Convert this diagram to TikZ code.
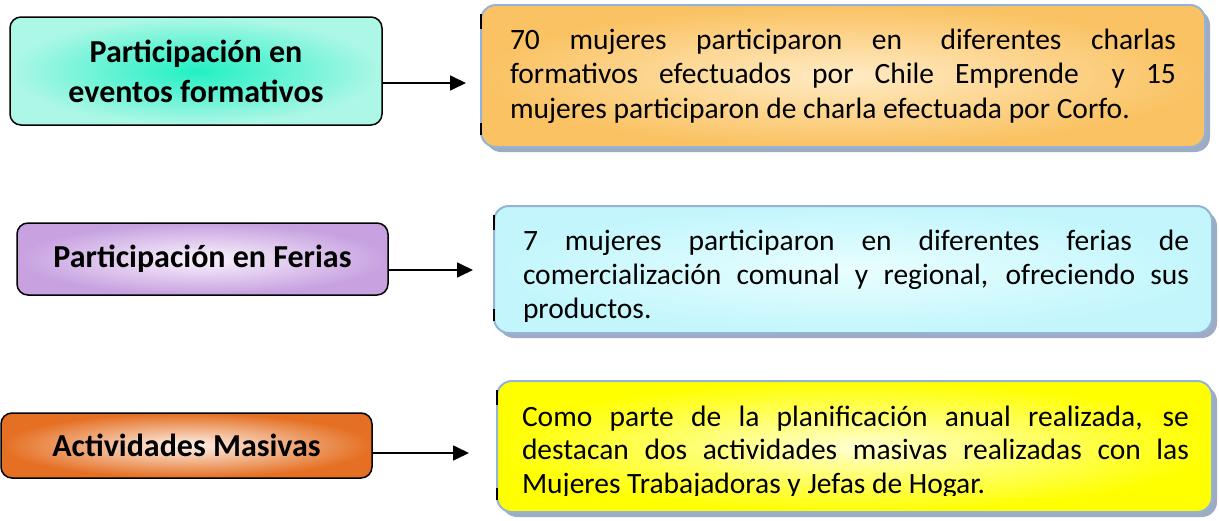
\documentclass[tikz,border=0pt]{standalone}
\usepackage{fontspec}
\setmainfont{Carlito}
\usetikzlibrary{arrows.meta,shadows}
\definecolor{aquaout}{HTML}{ADF7E6}
\definecolor{aquain}{HTML}{22F0C4}
\definecolor{purpout}{HTML}{C7A1E0}
\definecolor{purpin}{HTML}{FAF4FD}
\definecolor{orgout}{HTML}{E56F22}
\definecolor{orgin}{HTML}{FDF3EC}
\definecolor{ambout}{HTML}{FAC262}
\definecolor{ambin}{HTML}{FFEBC4}
\definecolor{cyout}{HTML}{C2F6FC}
\definecolor{cyin}{HTML}{E9FEFF}
\definecolor{yelout}{HTML}{FFFF00}
\definecolor{yelin}{HTML}{FFFFD0}
\definecolor{rborder}{HTML}{95B3D7}
\definecolor{shadowc}{HTML}{8496B4}
\tikzset{
  lbox/.style={draw=black, line width=1.5pt, rounded corners=11pt, inner sep=0pt, outer sep=0pt,
    font=\fontsize{32}{40}\selectfont\bfseries, align=center},
  rbox/.style={draw=rborder, line width=2pt, rounded corners=15pt, inner sep=0pt, outer sep=0pt,
    drop shadow={shadow xshift=5pt, shadow yshift=-5pt, fill=shadowc, opacity=0.8}},
  rtext/.style={anchor=base west, inner sep=0pt, outer sep=0pt, font=\fontsize{29.5}{34}\selectfont},
  arr/.style={-{Triangle[length=16pt,width=15pt]}, line width=1.7pt},
  tick/.style={draw=black, line width=1.6pt}
}
\begin{document}
\begin{tikzpicture}[x=1pt,y=-1pt]
\useasboundingbox (0,0) rectangle (1219,520);
% left boxes
\node[lbox, inner color=aquain, outer color=aquaout, minimum width=372pt, minimum height=108pt] (b1L) at (196,71) {Participación en\\eventos formativos};
\node[lbox, inner color=purpin, outer color=purpout, minimum width=371pt, minimum height=72pt] (b2L) at (202.5,259) {Participación en Ferias};
\node[lbox, inner color=orgin, outer color=orgout, minimum width=371pt, minimum height=65pt] (b3L) at (186.5,445.5) {Actividades Masivas};
% right boxes
\node[rbox, inner color=ambin, outer color=ambout, minimum width=724pt, minimum height=142pt] (b1R) at (843,76) {};
\node[rbox, inner color=cyin, outer color=cyout, minimum width=718pt, minimum height=127pt] (b2R) at (853,269.5) {};
\node[rbox, inner color=yelin, outer color=yelout, minimum width=715pt, minimum height=131pt] (b3R) at (854.5,446.5) {};
% small black marks on the left edges of the right boxes
\foreach \b in {b1R,b2R,b3R}{
  \draw[tick] ([yshift=-9pt]\b.north west) -- ([yshift=-24pt]\b.north west);
  \draw[tick] ([yshift=24pt]\b.south west) -- ([yshift=12pt]\b.south west);
}
% texts
\node[rtext] (t1a) at (510,49) {\makebox[666pt][s]{70 mujeres participaron en\hspace{0.3em} diferentes charlas}};
\node[rtext] (t1b) at (510,83.5) {\makebox[666pt][s]{formativos efectuados por Chile Emprende\hspace{0.4em} y 15}};
\node[rtext] (t1c) at (510,118) {mujeres participaron de charla efectuada por Corfo.};
\begin{scope}
\clip (b2R.north west) rectangle (1219,321.5);
\node[rtext] (t2a) at (523,250) {\makebox[666pt][s]{7 mujeres participaron en diferentes ferias de}};
\node[rtext] (t2b) at (523,284) {\makebox[666pt][s]{comercialización comunal y regional, ofreciendo sus}};
\node[rtext] (t2c) at (523,318) {productos.};
\end{scope}
\begin{scope}
\clip (b3R.north west) rectangle (1219,495);
\node[rtext] (t3a) at (522,426) {\makebox[667pt][s]{Como parte de la planificación anual realizada, se}};
\node[rtext] (t3b) at (522,459.5) {\makebox[667pt][s]{destacan dos actividades masivas realizadas con las}};
\node[rtext] (t3c) at (522,493.5) {Mujeres Trabajadoras y Jefas de Hogar.};
\end{scope}
% arrows
\coordinate (e1) at (466,83);
\coordinate (e2) at (473,270);
\coordinate (e3) at (469,453);
\draw[arr] (b1L.east |- e1) -- (e1);
\draw[arr] (b2L.east |- e2) -- (e2);
\draw[arr] (b3L.east |- e3) -- (e3);
\end{tikzpicture}
\end{document}
